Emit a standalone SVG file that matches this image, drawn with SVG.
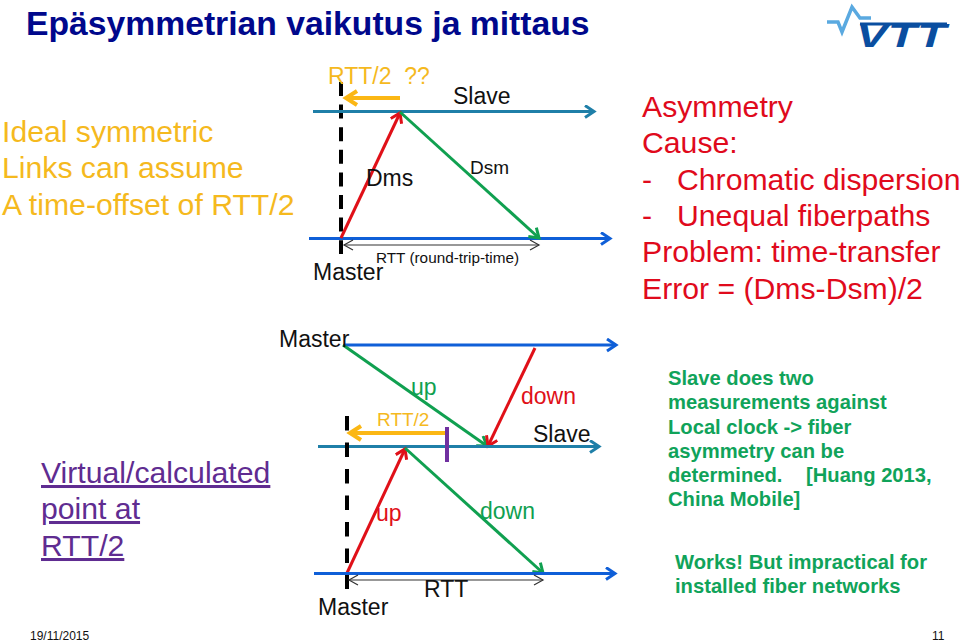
<svg xmlns="http://www.w3.org/2000/svg" width="960" height="642" viewBox="0 0 960 642">
<style>
text{font-family:"Liberation Sans",Arial,sans-serif}
.blk{fill:#111}
.l{fill:none;stroke-width:3}
.b{stroke:#0f5fd8}.t{stroke:#1f7fa8}.g{stroke:#10a050}.r{stroke:#e01018}
.d{fill:none;stroke:#000;stroke-width:4}
.m{fill:none;stroke:#333;stroke-width:1.2}
.yl{fill:#f5b91e}
.rd{fill:#e00a1c}
.pp{fill:#5f2c91;text-decoration:underline}
.gn{fill:#10a35a;font-weight:bold}
</style>
<defs>
<marker id="ab" markerUnits="userSpaceOnUse" markerWidth="16" markerHeight="16" refX="11" refY="7" orient="auto"><path d="M2,1L11,7L2,13" fill="none" stroke="#0f5fd8" stroke-width="3"/></marker>
<marker id="at" markerUnits="userSpaceOnUse" markerWidth="16" markerHeight="16" refX="11" refY="7" orient="auto"><path d="M2,1L11,7L2,13" fill="none" stroke="#1f7fa8" stroke-width="3"/></marker>
<marker id="ag" markerUnits="userSpaceOnUse" markerWidth="16" markerHeight="16" refX="11" refY="7" orient="auto"><path d="M2,1L11,7L2,13" fill="none" stroke="#10a050" stroke-width="3"/></marker>
<marker id="ar" markerUnits="userSpaceOnUse" markerWidth="16" markerHeight="16" refX="11" refY="7" orient="auto"><path d="M2,1L11,7L2,13" fill="none" stroke="#e01018" stroke-width="3"/></marker>
<marker id="ay" markerUnits="userSpaceOnUse" markerWidth="20" markerHeight="20" refX="16" refY="9" orient="auto"><path d="M5,2L16,9L5,16" fill="none" stroke="#fbb714" stroke-width="4"/></marker>
<marker id="as" markerUnits="userSpaceOnUse" markerWidth="12" markerHeight="12" refX="10" refY="6" orient="auto-start-reverse"><path d="M1,1L10,6L1,11" fill="none" stroke="#333" stroke-width="1.2"/></marker>
</defs>

<g id="title"><text x="26" y="35" font-size="33.700" font-weight="bold" fill="#00088c">Epäsymmetrian vaikutus ja mittaus</text></g>

<g id="logo">
<polyline points="827,22 838,22 842,32 852,7 860,18 871,18" fill="none" stroke="#5aa9e0" stroke-width="3.500"/>
<rect x="860" y="22.500" width="87" height="3" fill="#0a4ea0"/>
<text x="856" y="47" font-size="33" font-weight="bold" font-style="italic" fill="#0a4ea0" textLength="90" lengthAdjust="spacingAndGlyphs">VTT</text>
</g>

<g id="connectors">
<path class="d" stroke-dasharray="14 8.600" d="M341,82V254"/>
<path class="l t" d="M313,111.500H594" marker-end="url(#at)"/>
<path class="l b" d="M309,238.500H610" marker-end="url(#ab)"/>
<path class="l r" d="M341,238L400,113" marker-end="url(#ar)"/>
<path class="l g" d="M400,112L539,238" marker-end="url(#ag)"/>
<path fill="none" stroke="#fbb714" stroke-width="4" d="M400,98H346" marker-end="url(#ay)"/>
<path class="m" d="M344,245H539" marker-start="url(#as)" marker-end="url(#as)"/>

<path class="l b" d="M345,345H616" marker-end="url(#ab)"/>
<path class="l g" d="M343,345L487,446" marker-end="url(#ag)"/>
<path class="l r" d="M535,348L488,446" marker-end="url(#ar)"/>
<path class="l t" d="M318,446.500H599" marker-end="url(#at)"/>
<path class="d" stroke-dasharray="14.500 12" d="M347,416V589"/>
<path fill="none" stroke="#fbb714" stroke-width="4" d="M445,433H350" marker-end="url(#ay)"/>
<path fill="none" stroke="#7030a0" stroke-width="4" d="M447,427V462"/>
<path class="l r" d="M347,573L405,449" marker-end="url(#ar)"/>
<path class="l g" d="M405,448L543,573" marker-end="url(#ag)"/>
<path class="l b" d="M314,573.500H615" marker-end="url(#ab)"/>
<path class="m" d="M349,580H543" marker-start="url(#as)" marker-end="url(#as)"/>
</g>

<g id="left-top" font-size="30.200">
<text x="2" y="142" class="yl">Ideal symmetric</text>
<text x="2" y="178" class="yl">Links can assume</text>
<text x="2" y="215" class="yl">A time-offset of RTT/2</text>
</g>

<g id="d1-labels">
<text x="328" y="84" font-size="23" class="yl" xml:space="preserve">RTT/2  ??</text>
<text x="453" y="104" font-size="23" class="blk">Slave</text>
<text x="470" y="174" font-size="19" class="blk">Dsm</text>
<text x="366" y="186" font-size="23" class="blk">Dms</text>
<text x="376" y="263" font-size="15.300" class="blk">RTT (round-trip-time)</text>
<text x="313" y="280" font-size="23" class="blk">Master</text>
</g>

<g id="right-top" font-size="30.200">
<text x="642" y="117" class="rd">Asymmetry</text>
<text x="642" y="153" class="rd">Cause:</text>
<text x="642" y="190" class="rd">-</text>
<text x="677" y="190" class="rd">Chromatic dispersion</text>
<text x="642" y="226" class="rd">-</text>
<text x="677" y="226" class="rd">Unequal fiberpaths</text>
<text x="642" y="262" class="rd">Problem: time-transfer</text>
<text x="642" y="299" class="rd">Error = (Dms-Dsm)/2</text>
</g>

<g id="left-bottom" font-size="30.200">
<text x="41" y="483" class="pp">Virtual/calculated</text>
<text x="41" y="519" class="pp">point at</text>
<text x="41" y="556" class="pp">RTT/2</text>
</g>

<g id="d2-labels">
<text x="279" y="347" font-size="23" class="blk">Master</text>
<text x="411" y="395" font-size="23" fill="#10a050">up</text>
<text x="521" y="404" font-size="23" fill="#e01018">down</text>
<text x="377" y="426" font-size="19" class="yl">RTT/2</text>
<text x="533" y="442" font-size="23" class="blk">Slave</text>
<text x="376" y="521" font-size="23" fill="#e01018">up</text>
<text x="480" y="519" font-size="23" fill="#10a050">down</text>
<text x="424" y="597" font-size="23" class="blk">RTT</text>
<text x="318" y="615" font-size="23" class="blk">Master</text>
</g>

<g id="right-bottom" font-size="20.200" class="gn">
<text x="668" y="385">Slave does two</text>
<text x="668" y="409">measurements against</text>
<text x="668" y="434">Local clock -&gt; fiber</text>
<text x="668" y="458">asymmetry can be</text>
<text x="668" y="482">determined.</text>
<text x="806" y="482">[Huang 2013,</text>
<text x="668" y="506">China Mobile]</text>
<text x="675" y="569">Works! But impractical for</text>
<text x="675" y="593">installed fiber networks</text>
</g>

<g id="footer" font-size="12" class="blk">
<text x="30" y="640">19/11/2015</text>
<text x="932" y="640">11</text>
</g>
</svg>
